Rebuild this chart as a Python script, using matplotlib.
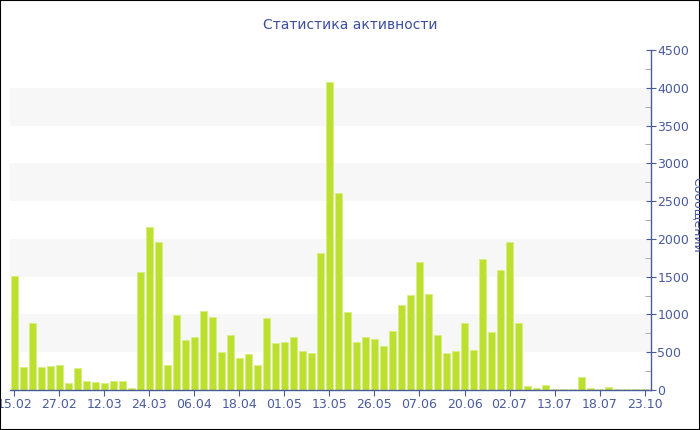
import numpy as np
import matplotlib
matplotlib.use('Agg')
from matplotlib import pyplot as plt
from matplotlib.ticker import MultipleLocator
from matplotlib.patches import Rectangle

# messages per period
values = [1510, 300, 890, 310, 315, 330, 90, 290, 120, 100,
          90, 115, 115, 25, 1560, 2160, 1960, 330, 990, 665,
          700, 1050, 970, 500, 730, 420, 476, 335, 948, 626,
          639, 701, 516, 485, 1816, 4078, 2610, 1027, 639, 697,
          675, 586, 776, 1129, 1257, 1693, 1266, 727, 494, 520,
          882, 529, 1733, 772, 1592, 1953, 891, 53, 22, 66,
          13, 13, 13, 167, 22, 13, 35, 13, 13, 13,
          13]
tick_labels = ['15.02', '27.02', '12.03', '24.03', '06.04', '18.04', '01.05',
               '13.05', '26.05', '07.06', '20.06', '02.07', '13.07', '18.07',
               '23.10']
tick_pos = np.arange(0, len(values), 5)

blue = '#4a5a9e'
fig = plt.figure(figsize=(7, 4.3), dpi=100)
ax = fig.add_axes([10 / 700, 40 / 430, 641 / 700, 340 / 430])

# alternating light bands
for lo in range(500, 4500, 1000):
    ax.axhspan(lo, lo + 500, color='#f7f7f7', zorder=0, lw=0)

x = np.arange(len(values))
ax.bar(x, values, width=0.78, color='#bde030', edgecolor='#d6ef80',
       linewidth=0.6, zorder=2)

ax.set_xlim(-0.45, len(values) - 0.3)
ax.set_ylim(0, 4500)
ax.set_xticks(tick_pos)
ax.set_xticklabels(tick_labels)

ax.yaxis.tick_right()
ax.yaxis.set_label_position('right')
ax.yaxis.set_major_locator(MultipleLocator(500))
ax.yaxis.set_minor_locator(MultipleLocator(250))
ax.tick_params(axis='y', which='major', direction='inout', length=7,
               color=blue, labelcolor=blue, labelsize=9, pad=1)
ax.tick_params(axis='y', which='minor', direction='in', length=4,
               color='#a0a0a0')
ax.tick_params(axis='x', direction='out', length=4, color=blue,
               labelcolor=blue, labelsize=9, pad=2)

for s in ['left', 'top']:
    ax.spines[s].set_visible(False)
for s in ['right', 'bottom']:
    ax.spines[s].set_color(blue)
    ax.spines[s].set_linewidth(1)

fig.text(0.5, 1 - 25 / 430, 'Статистика активности', ha='center',
         va='center', fontsize=10, color='#3d4f9f')
fig.text(697 / 700, 0.5, 'Сообщений', rotation=270, ha='center',
         va='center', fontsize=9, color=blue)

fig.patches.append(Rectangle((0, 0), 1, 1, transform=fig.transFigure,
                             fill=False, edgecolor='black', linewidth=1.5))

fig.savefig('out.png', dpi=100)
